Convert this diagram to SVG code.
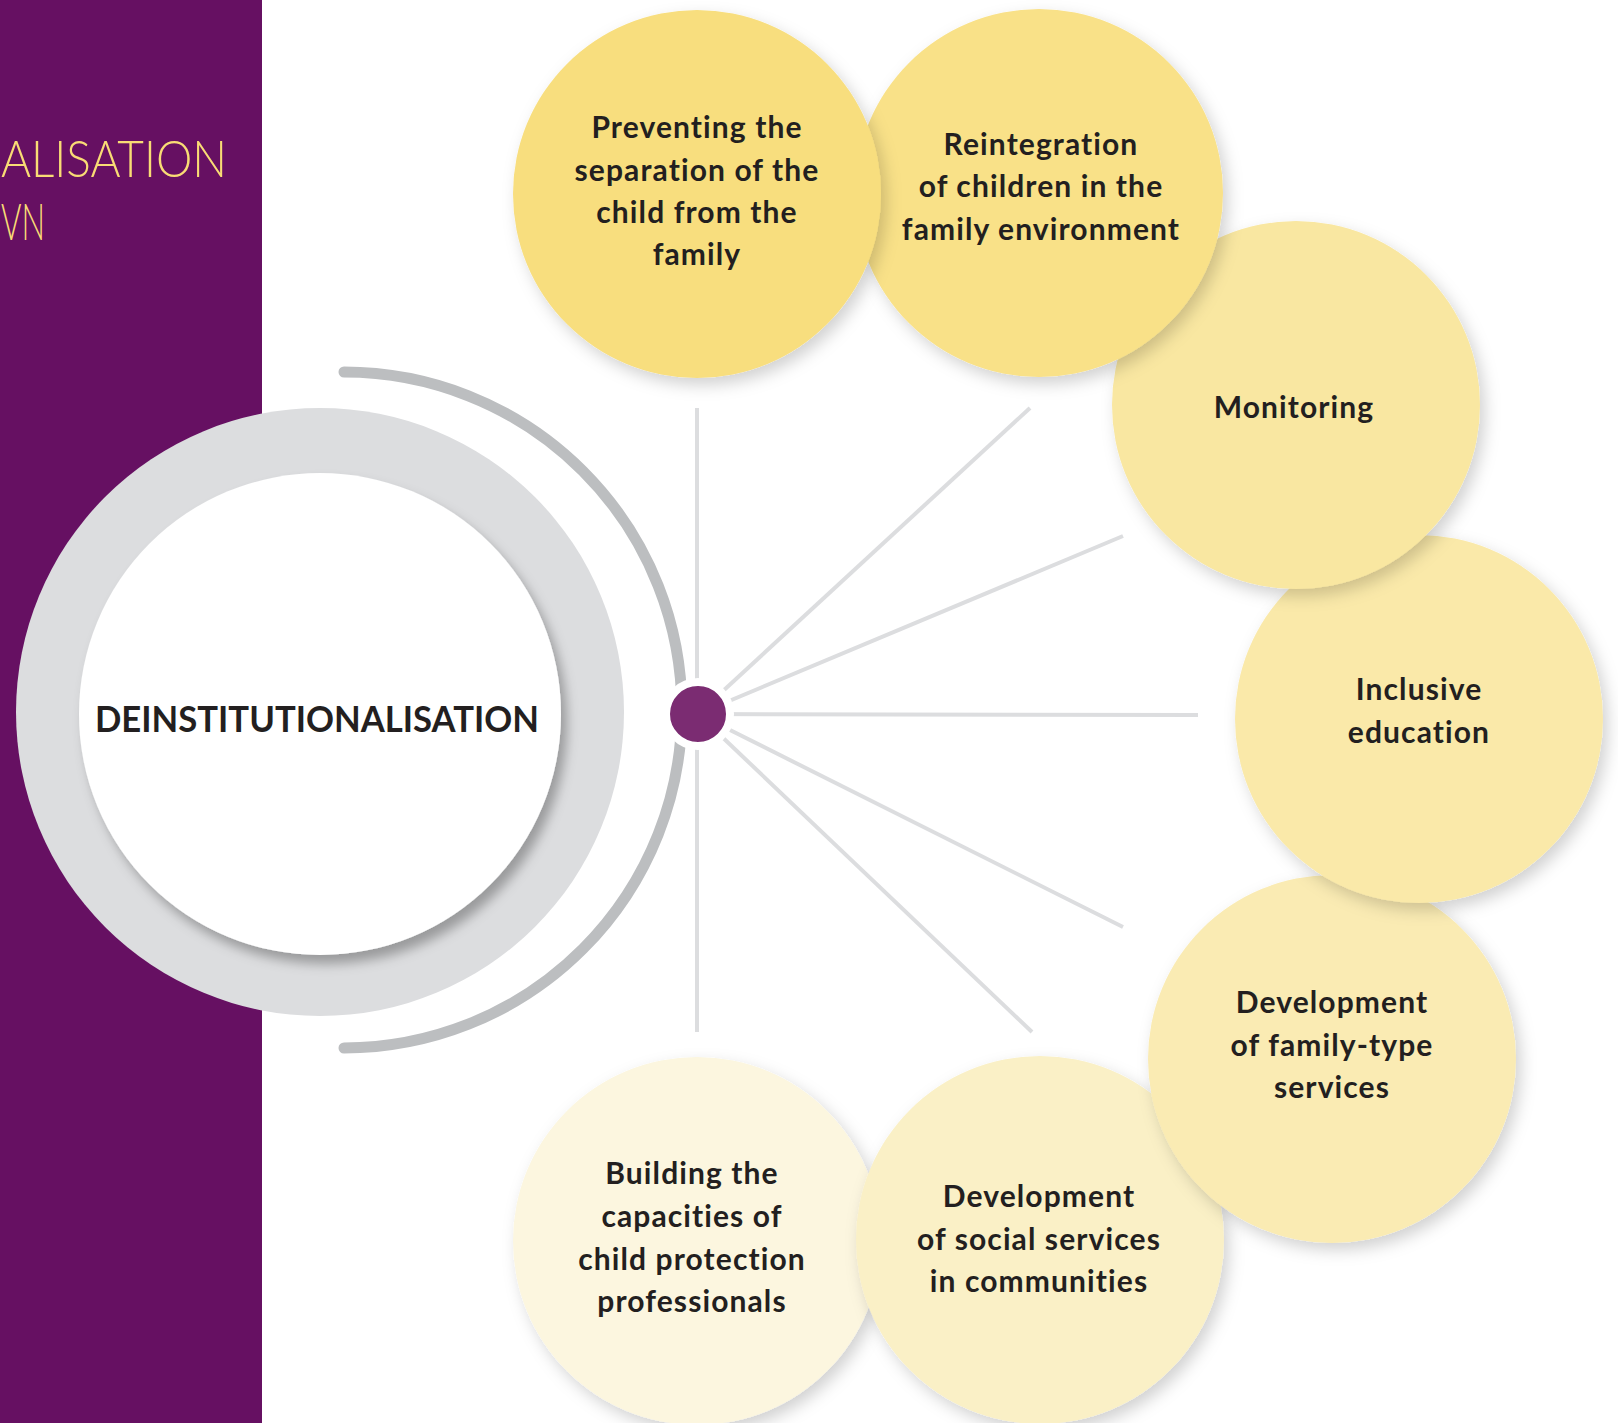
<svg xmlns="http://www.w3.org/2000/svg" width="1618" height="1423" viewBox="0 0 1618 1423">
<style>
.lbl{font-family:"Lato","Liberation Sans",sans-serif;font-weight:700;font-size:30px;letter-spacing:1.1px;fill:#231F20;text-anchor:middle}
.ttl{font-family:"Lato","Liberation Sans",sans-serif;font-weight:300;font-size:52px;fill:#F9DC75}
.spoke{stroke:#DCDDDF;stroke-width:4;fill:none}
</style>
<defs>
<filter id="sh" x="-20%" y="-20%" width="150%" height="150%">
<feDropShadow dx="5" dy="7" stdDeviation="8" flood-color="#000" flood-opacity="0.18"/>
</filter>
<filter id="sh2" x="-20%" y="-20%" width="150%" height="150%">
<feDropShadow dx="6" dy="9" stdDeviation="6" flood-color="#000" flood-opacity="0.3"/>
</filter>
</defs>
<rect x="0" y="0" width="1618" height="1423" fill="#FFFFFF"/>
<rect x="0" y="0" width="262" height="1423" fill="#661062"/>
<text class="ttl" x="1" y="177" textLength="226" lengthAdjust="spacingAndGlyphs">ALISATION</text>
<text class="ttl" x="1" y="240" textLength="44" lengthAdjust="spacingAndGlyphs">VN</text>

<g id="center">
<circle cx="320" cy="712" r="304" fill="#DCDDDF"/>
<circle cx="320" cy="714" r="241" fill="#FFFFFF" filter="url(#sh2)"/>
<text x="317" y="732" font-family="Lato, 'Liberation Sans', sans-serif" font-weight="700" font-size="36" fill="#231F20" text-anchor="middle" textLength="444" lengthAdjust="spacingAndGlyphs">DEINSTITUTIONALISATION</text>
</g>

<g id="connectors">
<path d="M 344 372 A 338 338 0 0 1 344 1048" stroke="#BCBEC0" stroke-width="11" stroke-linecap="round" fill="none"/>
<line class="spoke" x1="697" y1="408" x2="697" y2="1032"/>
<line class="spoke" x1="698" y1="714" x2="1030" y2="408"/>
<line class="spoke" x1="698" y1="714" x2="1123" y2="536"/>
<line class="spoke" x1="698" y1="714" x2="1198" y2="715"/>
<line class="spoke" x1="698" y1="714" x2="1123" y2="927"/>
<line class="spoke" x1="698" y1="714" x2="1032" y2="1032"/>
</g>

<g id="hub">
<circle cx="698" cy="714" r="32" fill="#7B2C72" stroke="#FFFFFF" stroke-width="8"/>
</g>

<g id="n7">
<circle cx="697" cy="1241" r="184" fill="#FCF6DF" filter="url(#sh)"/>
<text class="lbl" x="692" y="1184">Building the</text>
<text class="lbl" x="692" y="1227">capacities of</text>
<text class="lbl" x="692" y="1270">child protection</text>
<text class="lbl" x="692" y="1312">professionals</text>
</g>
<g id="n6">
<circle cx="1040" cy="1240" r="184" fill="#FAF0C6" filter="url(#sh)"/>
<text class="lbl" x="1039" y="1207">Development</text>
<text class="lbl" x="1039" y="1250">of social services</text>
<text class="lbl" x="1039" y="1292">in communities</text>
</g>
<g id="n5">
<circle cx="1332" cy="1059" r="184" fill="#FAEBB3" filter="url(#sh)"/>
<text class="lbl" x="1332" y="1013">Development</text>
<text class="lbl" x="1332" y="1056">of family-type</text>
<text class="lbl" x="1332" y="1098">services</text>
</g>
<g id="n4">
<circle cx="1419" cy="719" r="184" fill="#FAE9A9" filter="url(#sh)"/>
<text class="lbl" x="1419" y="700">Inclusive</text>
<text class="lbl" x="1419" y="743">education</text>
</g>
<g id="n3">
<circle cx="1296" cy="405" r="184" fill="#F9E7A1" filter="url(#sh)"/>
<text class="lbl" x="1294" y="418">Monitoring</text>
</g>
<g id="n2">
<circle cx="1039" cy="193" r="184" fill="#F9E188" filter="url(#sh)"/>
<text class="lbl" x="1041" y="155">Reintegration</text>
<text class="lbl" x="1041" y="197">of children in the</text>
<text class="lbl" x="1041" y="240">family environment</text>
</g>
<g id="n1">
<circle cx="697" cy="194" r="184" fill="#F8DE7E" filter="url(#sh)"/>
<text class="lbl" x="697" y="138">Preventing the</text>
<text class="lbl" x="697" y="181">separation of the</text>
<text class="lbl" x="697" y="223">child from the</text>
<text class="lbl" x="697" y="265">family</text>
</g>
</svg>
